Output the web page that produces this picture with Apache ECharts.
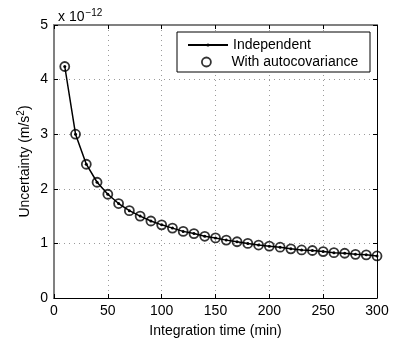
<!DOCTYPE html>
<html><head><meta charset="utf-8">
<script src="https://cdn.jsdelivr.net/npm/echarts@6/dist/echarts.min.js"></script>
<style>html,body{margin:0;padding:0;background:#fff}#c{width:415px;height:338px}</style>
</head><body><div id="c"></div>
<script>
const times = [10,20,30,40,50,60,70,80,90,100,110,120,130,140,150,160,170,180,190,200,210,220,230,240,250,260,270,280,290,300];
const independent = [4.24,3.00,2.45,2.12,1.90,1.73,1.60,1.50,1.41,1.34,1.28,1.22,1.18,1.13,1.10,1.06,1.03,1.00,0.97,0.95,0.93,0.90,0.88,0.87,0.85,0.83,0.82,0.80,0.79,0.77];
const autocov = [4.24,3.00,2.45,2.12,1.90,1.73,1.60,1.50,1.41,1.34,1.28,1.22,1.18,1.13,1.10,1.06,1.03,1.00,0.97,0.95,0.93,0.90,0.88,0.87,0.85,0.83,0.82,0.80,0.79,0.77];
const xTicks = [0,50,100,150,200,250,300];
const yTicks = [0,1,2,3,4,5];
const F = 'Liberation Sans, Arial, Helvetica, sans-serif';
const chart = echarts.init(document.getElementById('c'));
const gridLine = {show:true, lineStyle:{color:'#9a9a9a', type:[1,4], width:1}};
const legText = {fontFamily:F, fontSize:14, color:'#000'};
chart.setOption({
  animation:false,
  backgroundColor:'#fff',
  grid: {left:54, right:38, top:25, bottom:40, outerBoundsMode:'none', containLabel:false},
  title:{text:'x 10{s|−12}', left:53, top:3,
    textStyle:{fontFamily:F, fontSize:14, fontWeight:'normal', color:'#000',
      rich:{s:{fontFamily:F, fontSize:10, color:'#000', verticalAlign:'top', padding:[0,0,8,1]}}}},
  graphic:[{type:'rect', shape:{x:177, y:32, width:193, height:40}, z:3,
    style:{fill:'#fff', stroke:'#000', lineWidth:1}}],
  legend:[{
    left:187, top:38, orient:'vertical', padding:0,
    itemWidth:40, itemHeight:4, itemGap:0,
    textStyle:legText, data:['Independent']
  },{
    left:201, top:55, orient:'vertical', padding:0,
    itemWidth:40, itemHeight:9, itemGap:0,
    textStyle:legText,
    data:[{name:'With autocovariance', icon:'circle', itemStyle:{color:'#fff', borderColor:'#000', borderWidth:1.8}}]
  }],
  xAxis:[{
    type:'value', min:0, max:300, interval:50,
    name:'Integration time (min)', nameLocation:'middle', nameGap:26, nameMoveOverlap:false,
    nameTextStyle:{fontFamily:F, fontSize:14, color:'#000'},
    axisLine:{show:true, onZero:false, lineStyle:{color:'#000', width:1}},
    axisTick:{show:true, inside:true, length:4, lineStyle:{color:'#000'}},
    axisLabel:{fontFamily:F, fontSize:14, color:'#000', margin:6},
    splitLine:gridLine
  },{
    type:'value', position:'top', min:0, max:300, interval:50,
    axisLine:{show:true, onZero:false, lineStyle:{color:'#808080', width:2}},
    axisTick:{show:true, inside:true, length:4, lineStyle:{color:'#000'}},
    axisLabel:{show:false}, splitLine:{show:false}
  }],
  yAxis:[{
    type:'value', min:0, max:5, interval:1,
    name:'Uncertainty (m/s{s|2})', nameLocation:'middle', nameGap:20, nameMoveOverlap:false,
    nameTextStyle:{fontFamily:F, fontSize:14, color:'#000',
      rich:{s:{fontFamily:F, fontSize:10, color:'#000', verticalAlign:'top', padding:[0,0,8,0]}}},
    axisLine:{show:true, onZero:false, lineStyle:{color:'#808080', width:2}},
    axisTick:{show:true, inside:true, length:4, lineStyle:{color:'#000'}},
    axisLabel:{fontFamily:F, fontSize:14, color:'#000', margin:6},
    splitLine:gridLine
  },{
    type:'value', position:'right', min:0, max:5, interval:1,
    axisLine:{show:true, onZero:false, lineStyle:{color:'#000', width:1}},
    axisTick:{show:true, inside:true, length:4, lineStyle:{color:'#000'}},
    axisLabel:{show:false}, splitLine:{show:false}
  }],
  series:[{
    name:'Independent', type:'line', xAxisIndex:0, yAxisIndex:0,
    data: times.map((t,i)=>[t, independent[i]]),
    symbol:'circle', symbolSize:3, showSymbol:true,
    lineStyle:{color:'#000', width:1.5}, itemStyle:{color:'#000'}, z:3
  },{
    name:'With autocovariance', type:'scatter', xAxisIndex:0, yAxisIndex:0,
    data: times.map((t,i)=>[t, autocov[i]]),
    symbol:'circle', symbolSize:9,
    itemStyle:{color:'rgba(0,0,0,0)', borderColor:'#000', borderWidth:1.8}, z:4
  }]
});
</script></body></html>
